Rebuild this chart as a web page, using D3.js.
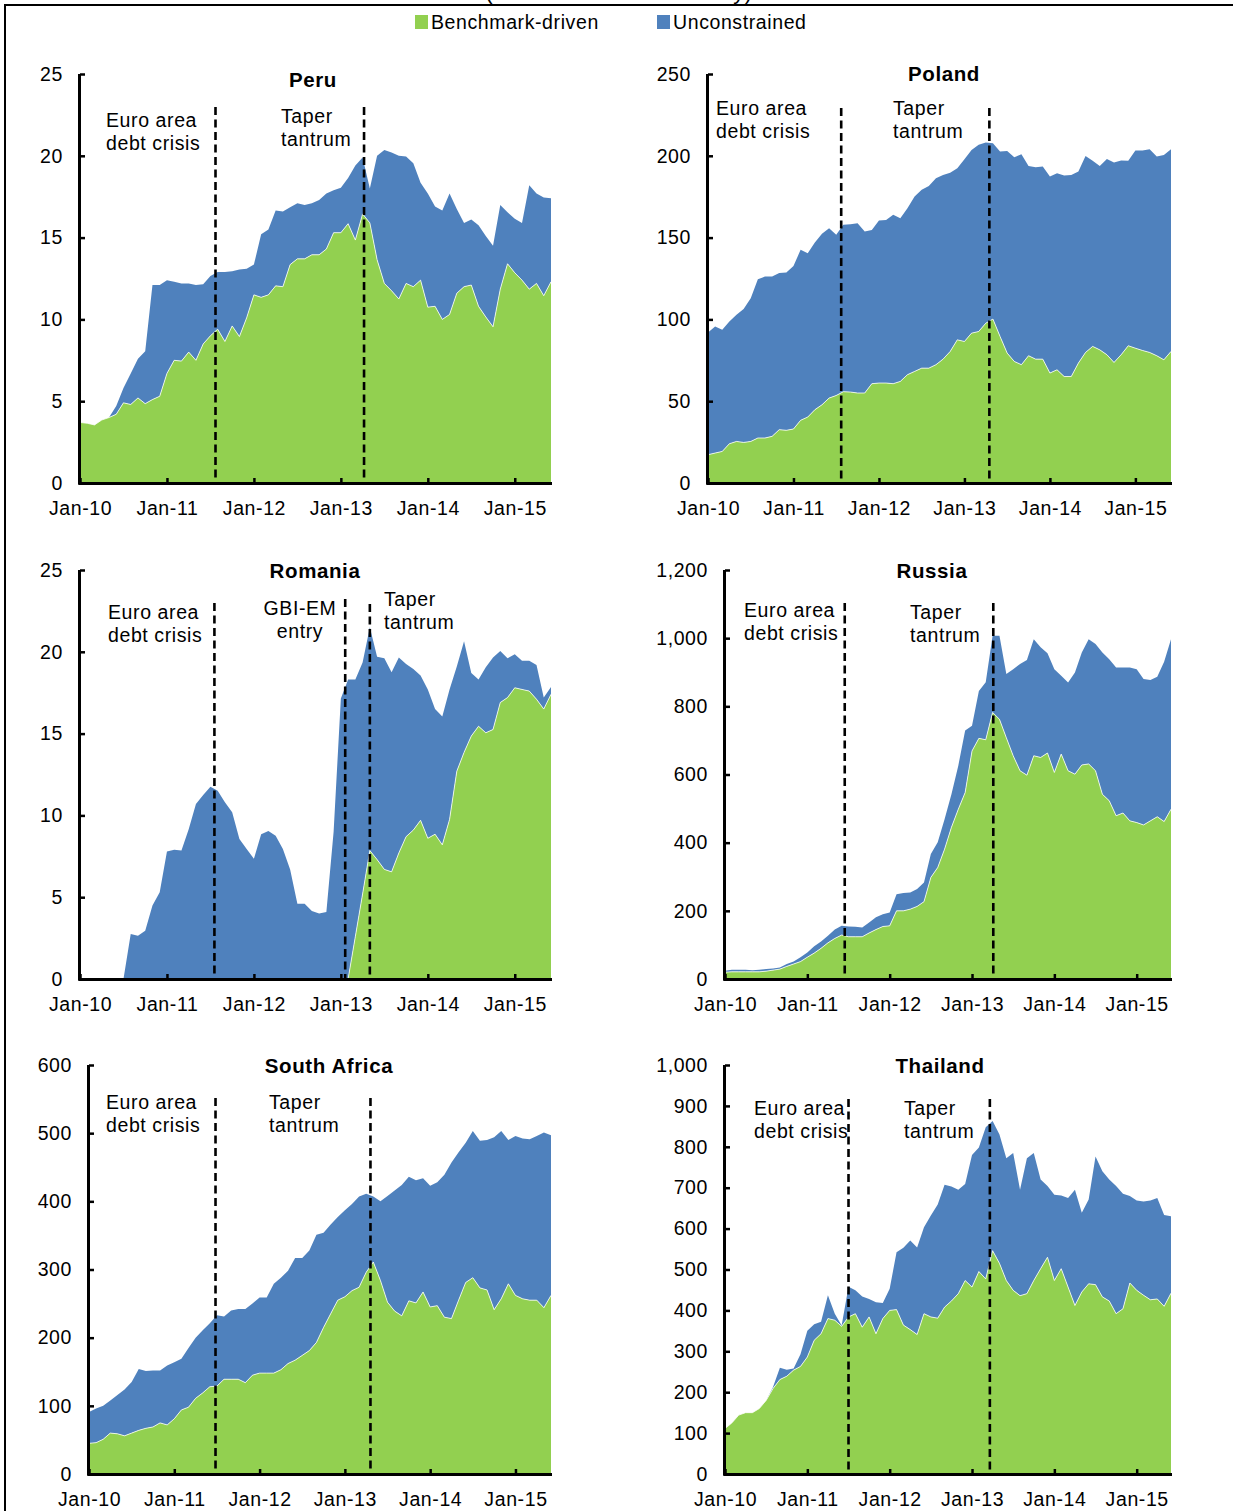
<!DOCTYPE html>
<html>
<head>
<meta charset="utf-8">
<script src="https://cdn.jsdelivr.net/npm/d3@7"></script>
<style>
  body { margin: 0; background: #fff; }
  svg { display: block; font-family: "Liberation Sans", Arial, sans-serif; }
  svg text { letter-spacing: 0.6px; }
</style>
</head>
<body>
<svg id="chart" width="1233" height="1511"></svg>
<script>
// ---------------- DATA ----------------
const titleText = "(Billions of local currency)";
const seriesNames = ["Benchmark-driven", "Unconstrained"];
const xTickLabels = ["Jan-10", "Jan-11", "Jan-12", "Jan-13", "Jan-14", "Jan-15"];
const xTickMonths = [0, 12, 24, 36, 48, 60];   // month index from Jan-10
const monthCount = 66;                          // Jan-10 .. Jun-15

const countries = ["Peru", "Poland", "Romania", "Russia", "South Africa", "Thailand"];
const yMaxes = [25, 250, 25, 1200, 600, 1000];
const ySteps = [5, 50, 5, 200, 100, 100];

const peruBenchmark = [3.7,3.65,3.55,3.85,4.0,4.2,4.9,4.8,5.2,4.85,5.1,5.3,6.7,7.5,7.45,8.0,7.5,8.5,9.0,9.4,8.65,9.6,8.95,10.1,11.5,11.35,11.5,12.05,12.0,13.35,13.7,13.7,13.95,13.95,14.3,15.3,15.3,15.85,14.85,16.45,15.9,13.65,12.2,11.75,11.25,12.2,12.0,12.4,10.75,10.8,10.0,10.3,11.6,12.0,12.1,10.8,10.15,9.55,11.85,13.4,12.85,12.4,11.85,12.2,11.45,12.3];
const peruUnconstrained = [0,0,0,0,0,0.5,0.9,1.9,2.4,3.2,7.0,6.8,5.7,4.8,4.75,4.2,4.6,3.65,3.65,3.5,4.25,3.35,4.1,3.0,1.85,3.85,4.0,4.6,4.6,3.5,3.4,3.3,3.15,3.35,3.4,2.6,2.75,2.8,4.55,3.45,2.1,6.35,8.15,8.45,8.75,7.75,7.55,5.95,6.95,6.1,6.65,7.4,5.15,3.9,4.0,4.95,4.95,4.95,5.15,3.15,3.3,3.5,6.35,5.5,6.0,5.1];

const polandBenchmark = [17.3,18.3,19.3,24.0,25.4,24.8,25.4,27.5,27.5,28.5,32.6,32.2,33.0,38.3,40.3,44.8,47.8,51.9,53.5,55.8,55.6,55.0,55.0,60.7,61.1,61.1,60.7,62.1,66.2,68.2,70.2,70.2,72.3,75.7,80.4,87.5,86.5,91.6,92.6,97.7,100.2,89.6,79.4,74.3,72.3,77.8,75.7,75.7,67.2,69.2,65.1,65.1,73.3,79.8,83.5,81.4,78.4,73.7,78.4,83.9,82.4,81.0,79.8,77.8,75.3,80.4];
const polandUnconstrained = [74.7,77.4,74.3,74.7,77.4,81.5,87.6,97.1,98.7,97.7,95.7,96.5,99.7,104.2,100.2,102.2,104.5,103.8,98.2,102.0,102.6,103.8,98.7,94.0,99.3,99.7,103.2,99.7,101.7,106.9,109.0,111.4,114.0,112.6,109.3,104.9,111.4,112.0,114.1,110.4,107.5,113.0,123.6,124.8,128.6,116.0,117.3,117.7,120.1,120.1,122.8,123.2,117.1,120.1,113.4,112.4,119.7,122.2,118.7,113.0,120.8,122.2,124.2,121.7,125.2,123.6];

const romaniaBenchmark = [0,0,0,0,0,0,0,0,0,0,0,0,0,0,0,0,0,0,0,0,0,0,0,0,0,0,0,0,0,0,0,0,0,0,0,0,0,0,2.6,5.2,7.85,7.3,6.7,6.55,7.7,8.7,9.1,9.7,8.6,8.85,8.2,9.75,12.7,13.85,14.85,15.45,15.05,15.25,16.9,17.2,17.8,17.7,17.6,17.1,16.5,17.4];
const romaniaUnconstrained = [0,0,0,0,0,0,0,2.75,2.65,2.95,4.5,5.3,7.8,7.9,7.85,9.15,10.7,11.25,11.75,11.5,10.8,10.2,8.55,7.95,7.35,8.85,9.05,8.75,7.95,6.7,4.6,4.6,4.15,4.0,4.1,9.0,17.15,18.3,15.7,14.15,13.65,12.4,12.9,12.2,11.95,10.55,9.85,8.85,9.1,7.65,7.85,7.95,6.4,6.8,3.85,2.85,4.0,4.4,3.15,2.4,2.05,1.75,1.85,2.1,0.7,0.45];

const russiaBenchmark = [20,21,21,21,21,21,23,26,29,37,44,51,64,76,90,106,119,129,124,124,124,135,145,154,156,200,200,205,213,227,298,327,381,445,498,547,669,706,702,782,762,708,655,611,598,655,650,663,606,660,611,601,628,631,611,542,523,479,487,464,459,452,464,476,462,498];
const russiaUnconstrained = [4,6,6,6,5,6,6,5,5,7,7,13,14,20,20,21,26,27,30,29,27,31,36,36,39,49,52,49,51,56,69,74,88,97,128,182,74,139,169,225,245,187,254,313,338,342,323,293,303,230,259,298,330,366,372,416,415,435,427,450,450,428,413,411,469,499];

const southAfricaBenchmark = [45,46,51,60,59,56,60,64,67,69,75,72,81,94,98,111,119,128,129,139,139,139,134,145,148,148,148,153,162,167,174,181,193,215,235,255,260,269,274,296,311,284,252,239,232,254,251,267,245,247,230,228,255,281,288,273,270,241,257,279,262,257,255,255,244,262];
const southAfricaUnconstrained = [46,50,49,48,57,68,75,90,84,83,77,87,83,75,87,89,92,93,104,92,101,103,108,105,111,111,131,135,136,150,143,147,158,139,131,122,127,127,133,115,96,116,156,177,192,182,180,167,178,181,209,229,217,205,215,216,220,253,246,211,234,235,236,241,257,235];

const thailandBenchmark = [111,125,144,150,150,160,180,209,231,239,254,263,286,327,343,380,376,361,384,392,359,384,343,380,400,402,364,353,341,392,384,381,408,423,441,473,457,495,477,546,515,473,449,436,441,473,502,530,473,502,457,412,445,465,463,433,423,392,404,467,449,437,426,428,410,442];
const thailandUnconstrained = [0,0,0,0,0,0,0,4,29,16,4,30,64,39,29,57,16,2,74,57,75,44,77,38,53,140,189,218,213,211,248,278,299,280,254,236,323,303,371,317,315,299,336,259,331,312,218,174,210,179,218,283,194,206,313,307,297,312,281,213,220,229,243,247,223,188];

const benchmarkSeries = [peruBenchmark, polandBenchmark, romaniaBenchmark, russiaBenchmark, southAfricaBenchmark, thailandBenchmark];
const unconstrainedSeries = [peruUnconstrained, polandUnconstrained, romaniaUnconstrained, russiaUnconstrained, southAfricaUnconstrained, thailandUnconstrained];

// event markers: month index (fractional) and label lines
const eventMonths = [
  [18.7, 39.2],
  [18.7, 39.5],
  [18.55, 36.6, 40.0],
  [17.45, 39.1],
  [17.8, 39.6],
  [18.0, 38.6]
];
const eventLabels = [
  [["Euro area", "debt crisis"], ["Taper", "tantrum"]],
  [["Euro area", "debt crisis"], ["Taper", "tantrum"]],
  [["Euro area", "debt crisis"], ["GBI-EM", "entry"], ["Taper", "tantrum"]],
  [["Euro area", "debt crisis"], ["Taper", "tantrum"]],
  [["Euro area", "debt crisis"], ["Taper", "tantrum"]],
  [["Euro area", "debt crisis"], ["Taper", "tantrum"]]
];

// ---------------- LAYOUT ----------------
const layout = [
  { left: 80,  right: 551,  top: 74,   bottom: 483,  title: [313, 87],   dashTop: [107, 107],
    labels: [{x: 106, y: 127, a: "start"}, {x: 281, y: 123, a: "start"}] },
  { left: 708, right: 1171, top: 74,   bottom: 483,  title: [944, 81],   dashTop: [108, 108],
    labels: [{x: 716, y: 115, a: "start"}, {x: 893, y: 115, a: "start"}] },
  { left: 80,  right: 551,  top: 570,  bottom: 979,  title: [315, 578],  dashTop: [603, 599, 604],
    labels: [{x: 108, y: 619, a: "start"}, {x: 300, y: 615, a: "middle"}, {x: 384, y: 606, a: "start"}] },
  { left: 725, right: 1171, top: 570,  bottom: 979,  title: [932, 578],  dashTop: [603, 603],
    labels: [{x: 744, y: 617, a: "start"}, {x: 910, y: 619, a: "start"}] },
  { left: 89,  right: 551,  top: 1065, bottom: 1474, title: [329, 1073], dashTop: [1098, 1098],
    labels: [{x: 106, y: 1109, a: "start"}, {x: 269, y: 1109, a: "start"}] },
  { left: 725, right: 1171, top: 1065, bottom: 1474, title: [940, 1073], dashTop: [1099, 1099],
    labels: [{x: 754, y: 1115, a: "start"}, {x: 904, y: 1115, a: "start"}] }
];
const colors = { benchmark: "#92D050", unconstrained: "#4F81BD" };
const FONT = 19.5;

// ---------------- DRAW ----------------
const svg = d3.select("#chart");

// clipped figure title at the very top (as in the reference) + frame
svg.append("text").attr("x", 619).attr("y", -1).attr("text-anchor", "middle")
  .attr("font-size", 22).text(titleText);
svg.append("path").attr("d", "M5,1511V5H1233").attr("fill", "none")
  .attr("stroke", "#000").attr("stroke-width", 2);

// legend
const legend = [
  { name: seriesNames[0], color: colors.benchmark, x: 415 },
  { name: seriesNames[1], color: colors.unconstrained, x: 657 }
];
legend.forEach(l => {
  svg.append("rect").attr("x", l.x).attr("y", 15).attr("width", 13).attr("height", 14).attr("fill", l.color);
  svg.append("text").attr("x", l.x + 16).attr("y", 29).attr("font-size", FONT).attr("fill", "#000").text(l.name);
});

countries.forEach((country, p) => {
  const L = layout[p];
  const x = d3.scaleLinear().domain([0, monthCount - 1]).range([L.left, L.right]);
  const y = d3.scaleLinear().domain([0, yMaxes[p]]).range([L.bottom, L.top]);

  const rows = d3.range(monthCount).map(i => ({
    month: i,
    benchmark: benchmarkSeries[p][i],
    unconstrained: unconstrainedSeries[p][i]
  }));
  const stacked = d3.stack().keys(["benchmark", "unconstrained"])(rows);

  const g = svg.append("g");
  const area = d3.area().x(d => x(d.data.month)).y0(d => y(d[0])).y1(d => y(d[1]));

  g.append("path").datum(stacked[1]).attr("d", area).attr("fill", colors.unconstrained);
  g.append("path").datum(stacked[0]).attr("d", area).attr("fill", colors.benchmark);
  // thin white outline on top of the benchmark area
  g.append("path").datum(stacked[0])
    .attr("d", d3.line().x(d => x(d.data.month)).y(d => y(d[1])))
    .attr("fill", "none").attr("stroke", "#fff").attr("stroke-width", 0.9).attr("opacity", 0.85);

  // event dashed lines
  eventMonths[p].forEach((m, k) => {
    g.append("line")
      .attr("x1", x(m)).attr("x2", x(m))
      .attr("y1", L.dashTop[k]).attr("y2", L.bottom)
      .attr("stroke", "#000").attr("stroke-width", 2.6).attr("stroke-dasharray", "8,4.5");
  });

  // event labels
  eventLabels[p].forEach((lines, k) => {
    const pos = L.labels[k];
    const t = g.append("text").attr("x", pos.x).attr("y", pos.y)
      .attr("text-anchor", pos.a).attr("font-size", FONT).attr("fill", "#000");
    lines.forEach((ln, j) => {
      t.append("tspan").attr("x", pos.x).attr("dy", j === 0 ? 0 : 22.5).text(ln);
    });
  });

  // title
  g.append("text").attr("x", L.title[0]).attr("y", L.title[1])
    .attr("text-anchor", "middle").attr("font-size", 20.5).attr("font-weight", "bold")
    .attr("fill", "#000").text(country);

  // axes
  const yAxis = d3.axisLeft(y)
    .tickValues(d3.range(0, yMaxes[p] + ySteps[p] / 2, ySteps[p]))
    .tickFormat(d3.format(","))
    .tickSizeInner(-5).tickSizeOuter(0).tickPadding(17);
  const gy = g.append("g").attr("transform", `translate(${L.left},0)`).call(yAxis);

  const xAxis = d3.axisBottom(x)
    .tickValues(xTickMonths)
    .tickFormat((d, i) => xTickLabels[i])
    .tickSizeInner(-5).tickSizeOuter(0).tickPadding(18);
  const gx = g.append("g").attr("transform", `translate(0,${L.bottom})`).call(xAxis);

  [gx, gy].forEach(ax => {
    ax.attr("font-family", null).attr("font-size", null);
    ax.select(".domain").attr("stroke", "#000").attr("stroke-width", 3);
    ax.selectAll(".tick line").attr("stroke", "#000").attr("stroke-width", 2.5);
    ax.selectAll(".tick text").attr("font-size", FONT).attr("fill", "#000");
  });
  gx.select(".domain").attr("d", `M${L.left - 1.5},0.5H${L.right + 1}`);
  gy.select(".domain").attr("d", `M-0.5,${L.top}V${L.bottom + 1.5}`);
});
</script>
</body>
</html>
